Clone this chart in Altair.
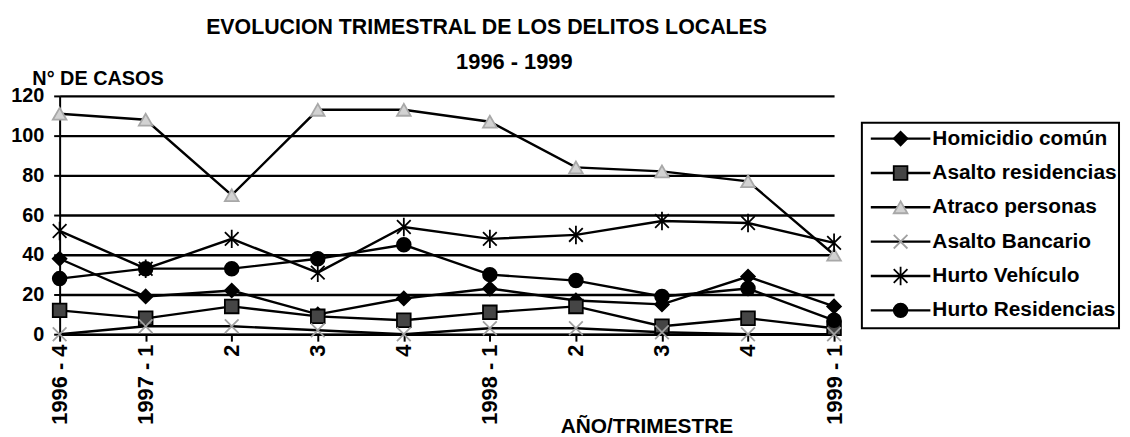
import altair as alt
import pandas as pd

FONT = "Liberation Sans"

titulo = "EVOLUCION TRIMESTRAL DE LOS DELITOS LOCALES"
subtitulo = "1996 - 1999"
titulo_y = "N° DE CASOS"
titulo_x = "AÑO/TRIMESTRE"

periodos = ["1996-4", "1997-1", "1997-2", "1997-3", "1997-4",
            "1998-1", "1998-2", "1998-3", "1998-4", "1999-1"]
etiquetas = ["1996 - 4", "1997 - 1", "2", "3", "4",
             "1998 - 1", "2", "3", "4", "1999 - 1"]

series = ["Homicidio común", "Asalto residencias", "Atraco personas",
          "Asalto Bancario", "Hurto Vehículo", "Hurto Residencias"]

homicidio = [38, 19, 22, 10, 18, 23, 17, 15, 29, 14]
asalto_residencias = [12, 8, 14, 9, 7, 11, 14, 4, 8, 3]
atraco_personas = [111, 108, 70, 113, 113, 107, 84, 82, 77, 40]
asalto_bancario = [0, 4, 4, 2, 0, 3, 3, 1, 0, 0]
hurto_vehiculo = [52, 33, 48, 31, 54, 48, 50, 57, 56, 46]
hurto_residencias = [28, 33, 33, 38, 45, 30, 27, 19, 23, 7]

valores = [homicidio, asalto_residencias, atraco_personas,
           asalto_bancario, hurto_vehiculo, hurto_residencias]

formas = ["diamond", "square", "triangle-up",
          "M-1,-1L1,1M-1,1L1,-1",
          "M-1,-1L1,1M-1,1L1,-1M0,-1.35L0,1.35",
          "circle"]
rellenos = ["#000000", "#454545", "#d2d2d2", "#a8a8a8", "#000000", "#000000"]
trazos = ["#000000", "#000000", "#a8a8a8", "#a0a0a0", "#000000", "#000000"]

rows = []
for s, vals in zip(series, valores):
    for p, v in zip(periodos, vals):
        rows.append({"serie": s, "periodo": p, "casos": v})
df = pd.DataFrame(rows)
leg_df = pd.DataFrame({"serie": series})
one = pd.DataFrame({"k": [0]})

label_expr = ("[" + ",".join("'%s'" % e for e in etiquetas) + "][indexof(["
              + ",".join("'%s'" % p for p in periodos) + "], datum.value)]")

x_enc = alt.X(
    "periodo:N", sort=periodos,
    scale=alt.Scale(type="point", padding=0),
    axis=alt.Axis(
        title=titulo_x, labelExpr=label_expr, labelAngle=-90,
        labelFont=FONT, labelFontSize=22, labelFontWeight="bold", labelColor="black",
        labelPadding=3, labelFlush=False, labelOverlap=False,
        tickSize=7, tickWidth=2, tickColor="black",
        domainColor="black", domainWidth=2, grid=False,
        titleFont=FONT, titleFontSize=21, titleFontWeight="bold", titleColor="black",
        titleX=591, titleY=99, titleAlign="center", titleBaseline="alphabetic",
    ),
)
y_enc = alt.Y(
    "casos:Q",
    scale=alt.Scale(domain=[0, 120], nice=False),
    axis=alt.Axis(
        title=titulo_y, values=[0, 20, 40, 60, 80, 100, 120],
        labelFont=FONT, labelFontSize=20, labelFontWeight="bold", labelColor="black",
        labelPadding=10, tickSize=6, tickWidth=2, tickColor="black",
        domainColor="black", domainWidth=2,
        grid=True, gridColor="black", gridWidth=2.4, gridOpacity=1,
        titleFont=FONT, titleFontSize=20, titleFontWeight="bold", titleColor="black",
        titleAngle=0, titleX=-28, titleY=-11, titleAlign="left", titleBaseline="alphabetic",
    ),
)

shape_enc = alt.Shape("serie:N", scale=alt.Scale(domain=series, range=formas), legend=None)
fill_enc = alt.Fill("serie:N", scale=alt.Scale(domain=series, range=rellenos), legend=None)
stroke_enc = alt.Stroke("serie:N", scale=alt.Scale(domain=series, range=trazos), legend=None)

base = alt.Chart(df)
lines = base.mark_line(color="black", strokeWidth=2.4).encode(
    x=x_enc, y=y_enc, detail="serie:N"
)
points = base.mark_point(size=190, strokeWidth=1.8, opacity=1).encode(
    x=x_enc, y=y_enc, shape=shape_enc, fill=fill_enc, stroke=stroke_enc
)
main = alt.layer(lines, points)

leg_y = alt.Y("serie:N", sort=series,
              scale=alt.Scale(type="point", domain=series, range=[43, 216], padding=0),
              axis=None)
leg_base = alt.Chart(leg_df)
leg_box = alt.Chart(one).mark_rect(fillOpacity=0, stroke="black", strokeWidth=2).encode(
    x=alt.value(808), x2=alt.value(1067), y=alt.value(27), y2=alt.value(234)
)
leg_rule = leg_base.mark_rule(color="black", strokeWidth=2.4).encode(
    x=alt.value(817), x2=alt.value(877), y=leg_y
)
leg_pts = leg_base.mark_point(size=190, strokeWidth=1.8, opacity=1).encode(
    x=alt.value(847), y=leg_y, shape=shape_enc, fill=fill_enc, stroke=stroke_enc
)
leg_txt = leg_base.mark_text(align="left", baseline="middle", font=FONT, fontSize=21,
                             fontWeight="bold", color="black").encode(
    x=alt.value(879), y=leg_y, text="serie:N"
)
t1 = alt.Chart(one).mark_text(align="center", baseline="alphabetic", font=FONT,
                              fontSize=21.5, fontWeight="bold", color="black").encode(
    x=alt.value(430), y=alt.value(-62), text=alt.value(titulo)
)
t2 = alt.Chart(one).mark_text(align="center", baseline="alphabetic", font=FONT,
                              fontSize=22, fontWeight="bold", color="black").encode(
    x=alt.value(458), y=alt.value(-27), text=alt.value(subtitulo)
)
legend = alt.layer(leg_box, leg_rule, leg_pts, leg_txt, t1, t2)

chart = alt.layer(main, legend).resolve_scale(y="independent").properties(
    width=780, height=240,
    autosize=alt.AutoSizeParams(type="none"),
    padding={"left": 52, "top": 87, "right": 290, "bottom": 102},
    background="white",
).configure_view(stroke=None)

chart.save("out.html", embed_options={"renderer": "svg", "actions": False})
